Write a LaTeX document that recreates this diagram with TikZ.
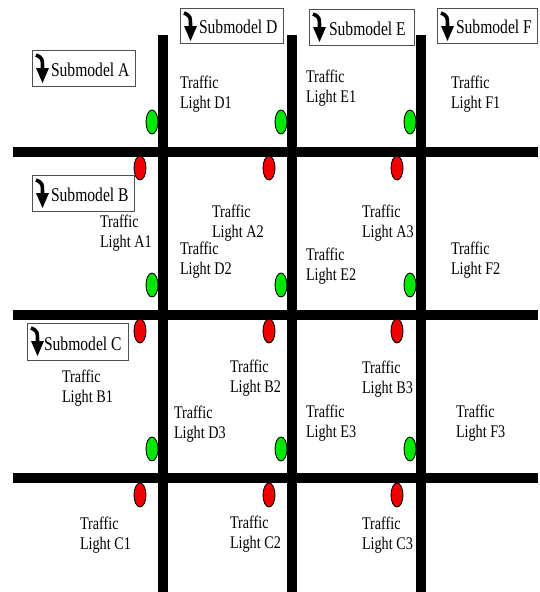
\documentclass[tikz,border=0pt]{standalone}
\usepackage{fontspec}
\setmainfont{Liberation Serif}
\usetikzlibrary{shapes.geometric,calc}
\definecolor{lgreen}{RGB}{0,232,0}
\definecolor{lred}{RGB}{240,0,0}
\definecolor{boxgray}{RGB}{80,80,80}
\newcommand{\tlabel}[1]{\scalebox{1}[1.25]{\fontsize{14.2}{16}\selectfont\begin{tabular}[t]{@{}l@{}}#1\end{tabular}}}
\newcommand{\smlabel}[1]{\scalebox{1}[1.25]{\fontsize{15.6}{18}\selectfont #1}}
\tikzset{
  road/.style={line width=9.5pt, black},
  lamp/.style={ellipse, draw=black, line width=0.9pt, minimum width=12pt, minimum height=24pt, inner sep=0pt},
  golamp/.style={lamp, fill=lgreen},
  stoplamp/.style={lamp, fill=lred},
  tl/.style={anchor=base west, inner sep=0pt, outer sep=0pt},
  smbox/.style={draw=boxgray, line width=1pt, anchor=north west, inner sep=0pt, minimum height=36pt},
  smicon/.style={line width=3.6pt, black}
}
\newcommand{\smicondraw}[1]{%
  \draw[smicon] ($(#1.north west)+(4,5)$) .. controls ($(#1.north west)+(10.5,8)$) .. ($(#1.north west)+(10.5,20)$);
  \fill[black] ($(#1.north west)+(4,18)$) -- ($(#1.north west)+(17,18)$) -- ($(#1.north west)+(10.5,33)$) -- cycle;
}
\begin{document}
\begin{tikzpicture}[x=1pt,y=-1pt]
\useasboundingbox (0,0) rectangle (540,592);
% roads
\coordinate (v1t) at (163,35); \coordinate (v1b) at (163,592);
\coordinate (v2t) at (292,35); \coordinate (v2b) at (292,592);
\coordinate (v3t) at (421,35); \coordinate (v3b) at (421,592);
\coordinate (h1l) at (13,152); \coordinate (h1r) at (538,152);
\coordinate (h2l) at (13,315); \coordinate (h2r) at (538,315);
\coordinate (h3l) at (13,478); \coordinate (h3r) at (538,478);
\draw[road] (v1t) -- (v1b);
\draw[road] (v2t) -- (v2b);
\draw[road] (v3t) -- (v3b);
\draw[road] (h1l) -- (h1r);
\draw[road] (h2l) -- (h2r);
\draw[road] (h3l) -- (h3r);
% lights
\node[golamp] (g11) at (152,122) {};
\node[golamp] (g12) at (281,122) {};
\node[golamp] (g13) at (410,122) {};
\node[golamp] (g21) at (152,285) {};
\node[golamp] (g22) at (281,285) {};
\node[golamp] (g23) at (410,285) {};
\node[golamp] (g31) at (152,449) {};
\node[golamp] (g32) at (281,449) {};
\node[golamp] (g33) at (410,449) {};
\node[stoplamp] (r11) at (140,168) {};
\node[stoplamp] (r12) at (269,168) {};
\node[stoplamp] (r13) at (397,168) {};
\node[stoplamp] (r21) at (140,331) {};
\node[stoplamp] (r22) at (269,331) {};
\node[stoplamp] (r23) at (397,331) {};
\node[stoplamp] (r31) at (140,495) {};
\node[stoplamp] (r32) at (269,495) {};
\node[stoplamp] (r33) at (397,495) {};
% labels
\node[tl] (lD1) at (180,88) {\tlabel{Traffic\\Light D1}};
\node[tl] (lE1) at (306,82) {\tlabel{Traffic\\Light E1}};
\node[tl] (lF1) at (451,88) {\tlabel{Traffic\\Light F1}};
\node[tl] (lA1) at (100,227) {\tlabel{Traffic\\Light A1}};
\node[tl] (lA2) at (212,217) {\tlabel{Traffic\\Light A2}};
\node[tl] (lD2) at (180,254) {\tlabel{Traffic\\Light D2}};
\node[tl] (lA3) at (362,217) {\tlabel{Traffic\\Light A3}};
\node[tl] (lE2) at (306,260) {\tlabel{Traffic\\Light E2}};
\node[tl] (lF2) at (451,254) {\tlabel{Traffic\\Light F2}};
\node[tl] (lB1) at (62,382) {\tlabel{Traffic\\Light B1}};
\node[tl] (lB2) at (230,372) {\tlabel{Traffic\\Light B2}};
\node[tl] (lD3) at (174,418) {\tlabel{Traffic\\Light D3}};
\node[tl] (lB3) at (362,373) {\tlabel{Traffic\\Light B3}};
\node[tl] (lE3) at (306,417) {\tlabel{Traffic\\Light E3}};
\node[tl] (lF3) at (456,417) {\tlabel{Traffic\\Light F3}};
\node[tl] (lC1) at (80,529) {\tlabel{Traffic\\Light C1}};
\node[tl] (lC2) at (230,528) {\tlabel{Traffic\\Light C2}};
\node[tl] (lC3) at (362,529) {\tlabel{Traffic\\Light C3}};
% submodel boxes
\node[smbox, minimum width=103pt] (bA) at (32,50) {};
\node[smbox, minimum width=103pt, minimum height=35pt] (bD) at (180,8) {};
\node[smbox, minimum width=105pt] (bE) at (309,9) {};
\node[smbox, minimum width=100pt, minimum height=35pt] (bF) at (437,8) {};
\node[smbox, minimum width=102pt] (bB) at (32,175) {};
\node[smbox, minimum width=101pt, minimum height=37pt] (bC) at (27,323) {};
\node[tl] (tA) at ($(bA.north west)+(19,26)$) {\smlabel{Submodel A}};
\node[tl] (tD) at ($(bD.north west)+(19,25)$) {\smlabel{Submodel D}};
\node[tl] (tE) at ($(bE.north west)+(20,26)$) {\smlabel{Submodel E}};
\node[tl] (tF) at ($(bF.north west)+(19,25)$) {\smlabel{Submodel F}};
\node[tl] (tB) at ($(bB.north west)+(19,26)$) {\smlabel{Submodel B}};
\node[tl] (tC) at ($(bC.north west)+(17,27)$) {\smlabel{Submodel C}};
\smicondraw{bA}
\smicondraw{bD}
\smicondraw{bE}
\smicondraw{bF}
\smicondraw{bB}
\smicondraw{bC}
\end{tikzpicture}
\end{document}
